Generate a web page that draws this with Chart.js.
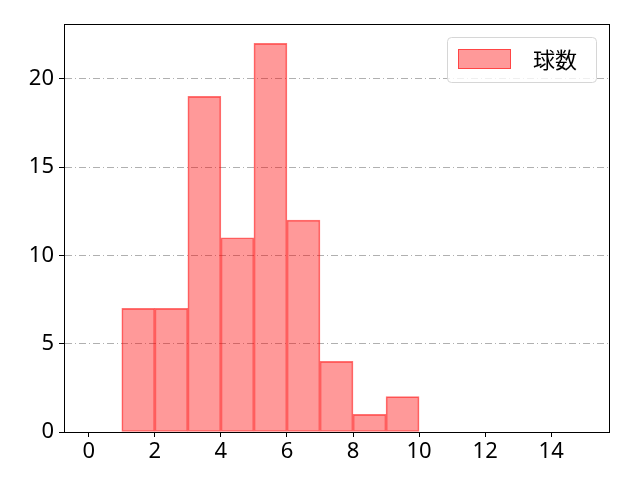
<!DOCTYPE html>
<html>
<head>
<meta charset="utf-8">
<script src="https://cdn.jsdelivr.net/npm/chart.js@4"></script>
<style>
  html, body { margin: 0; padding: 0; background: #fff; }
  #wrap { width: 640px; height: 480px; }
</style>
</head>
<body>
<div id="wrap"><canvas id="histChart" width="640" height="480"></canvas></div>
<script>
// bin left edges and counts (bin width 1)
const binStarts = [0, 1, 2, 3, 4, 5, 6, 7, 8, 9, 10, 11, 12, 13, 14];
const counts = [0, 7, 7, 19, 11, 22, 12, 4, 1, 2, 0, 0, 0, 0, 0];
const xTicks = [0, 2, 4, 6, 8, 10, 12, 14];
const yTicks = [0, 5, 10, 15, 20];
const seriesLabel = '球数';

const TICK_FONT = '"Noto Sans", "DejaVu Sans", sans-serif';
const CJK_FONT = '"Noto Sans CJK JP", "Noto Sans", sans-serif';

// box around the plot area (matplotlib style frame)
const framePlugin = {
    id: 'frame',
    afterDraw(chart) {
        const { ctx, chartArea: a } = chart;
        ctx.save();
        ctx.strokeStyle = '#000';
        ctx.lineWidth = 1;
        ctx.strokeRect(Math.round(a.left) + 0.5, Math.round(a.top) + 0.5,
            Math.round(a.right - a.left), Math.round(a.bottom - a.top));
        ctx.restore();
    }
};

// legend box in the upper right corner
const legendBoxPlugin = {
    id: 'legendBox',
    afterDraw(chart) {
        const { ctx, chartArea: a } = chart;
        const ds = chart.data.datasets[0];
        const w = 149, h = 45;
        const x = Math.round(a.right) - 13 - w, y = Math.round(a.top) + 13;
        ctx.save();
        ctx.fillStyle = 'rgba(255,255,255,0.8)';
        ctx.strokeStyle = '#d6d6d6';
        ctx.lineWidth = 1;
        ctx.beginPath();
        ctx.roundRect(x + 0.5, y + 0.5, w, h, 4);
        ctx.fill();
        ctx.stroke();
        ctx.fillStyle = ds.backgroundColor;
        ctx.fillRect(x + 11, y + 12, 53, 20);
        ctx.strokeStyle = ds.borderColor;
        ctx.strokeRect(x + 11.5, y + 12.5, 52, 19);
        ctx.fillStyle = '#000';
        ctx.font = '22px ' + CJK_FONT;
        ctx.textBaseline = 'middle';
        ctx.fillText(ds.label, x + 86, y + 23);
        ctx.restore();
    }
};

document.addEventListener('DOMContentLoaded', () => {
    const ctx = document.getElementById('histChart').getContext('2d');

    const data = {
        datasets: [{
            label: seriesLabel,
            data: binStarts.map((b, i) => ({ x: b + 0.5, y: counts[i] })),
            backgroundColor: 'rgba(255, 0, 0, 0.4)',
            borderColor: 'rgba(255, 0, 0, 0.55)',
            borderWidth: 1,
            barPercentage: 1,
            categoryPercentage: 1,
            borderSkipped: false
        }]
    };

    const options = {
        responsive: false,
        animation: false,
        layout: { padding: { top: 24, right: 31, left: 0, bottom: 0 } },
        plugins: {
            legend: { display: false },
            tooltip: { enabled: false }
        },
        scales: {
            x: {
                type: 'linear',
                offset: false,
                min: -0.75,
                max: 15.75,
                afterBuildTicks: (axis) => { axis.ticks = xTicks.map(v => ({ value: v })); },
                afterFit: (axis) => { axis.height = 48; },
                grid: {
                    offset: false,
                    drawOnChartArea: false,
                    tickLength: 5,
                    tickColor: '#000'
                },
                border: { color: '#000' },
                ticks: {
                    color: '#000',
                    font: { family: TICK_FONT, size: 22 },
                    padding: 2,
                    maxRotation: 0
                }
            },
            y: {
                min: 0,
                max: 23.1,
                afterBuildTicks: (axis) => { axis.ticks = yTicks.map(v => ({ value: v })); },
                afterFit: (axis) => { axis.width = 64; },
                grid: {
                    color: '#b0b0b0',
                    lineWidth: 1,
                    tickLength: 5,
                    tickColor: '#000',
                    tickBorderDash: []
                },
                border: { color: '#000', dash: [7, 3, 1, 3] },
                ticks: {
                    color: '#000',
                    font: { family: TICK_FONT, size: 22 },
                    padding: 5
                }
            }
        }
    };

    new Chart(ctx, {
        type: 'bar',
        data: data,
        options: options,
        plugins: [framePlugin, legendBoxPlugin]
    });
});
</script>
</body>
</html>
